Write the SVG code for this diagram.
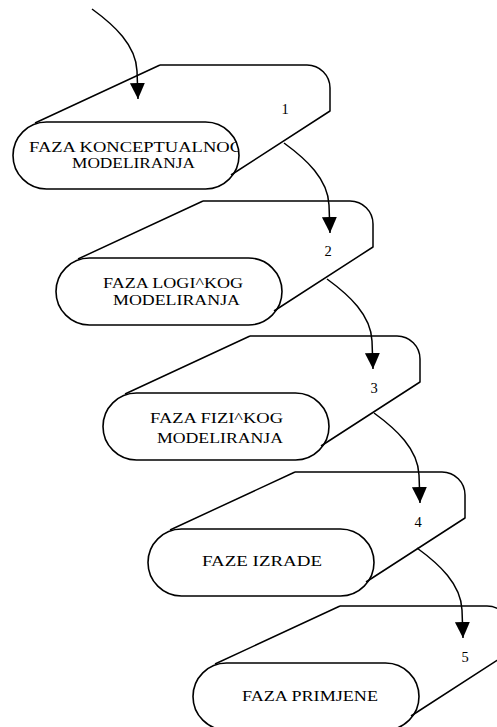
<svg xmlns="http://www.w3.org/2000/svg" width="497" height="727" viewBox="0 0 497 727">
  <style>
    .outline { fill: none; stroke: #000; stroke-width: 1.5; stroke-linejoin: round; }
    .pill { fill: none; stroke: #000; stroke-width: 1.6; }
    .label { font-family: "Liberation Serif", "Times New Roman", serif; font-size: 15px; fill: #000; text-anchor: middle; }
    .num { font-family: "Liberation Serif", "Times New Roman", serif; font-size: 14.5px; fill: #000; text-anchor: middle; }
    .flow { fill: none; stroke: #000; stroke-width: 1.5; }
  </style>
  <defs>
    <!-- tape-like outline behind each phase, drawn from the top-left corner of its top edge -->
    <path id="tape" d="M0,0 H147 A23,23 0 0 1 170,23 V46 L71,110 M0,0 L-125,58"/>
    <clipPath id="pill1clip">
      <rect x="-147" y="57" width="226" height="67" rx="33.5"/>
    </clipPath>
    <marker id="arrowhead" markerUnits="userSpaceOnUse" markerWidth="17" markerHeight="16" refX="16" refY="7.5" orient="auto">
      <path d="M0,0 L16,7.5 L0,15 z" fill="#000"/>
    </marker>
  </defs>

  <g id="phase1" transform="translate(160,65)">
    <use href="#tape" class="outline"/>
    <g clip-path="url(#pill1clip)">
      <text class="label" x="-24" y="87" textLength="214" lengthAdjust="spacingAndGlyphs">FAZA KONCEPTUALNOG</text>
    </g>
    <text class="label" x="-26.5" y="103" textLength="123" lengthAdjust="spacingAndGlyphs">MODELIRANJA</text>
    <rect class="pill" x="-147" y="57" width="226" height="67" rx="33.5"/>
    <text class="num" x="125" y="49">1</text>
  </g>

  <g id="phase2" transform="translate(203,201)">
    <use href="#tape" class="outline"/>
    <rect class="pill" x="-147" y="57" width="226" height="67" rx="33.5"/>
    <text class="label" x="-30" y="87" textLength="140" lengthAdjust="spacingAndGlyphs">FAZA LOGI^KOG</text>
    <text class="label" x="-26.5" y="104" textLength="127" lengthAdjust="spacingAndGlyphs">MODELIRANJA</text>
    <text class="num" x="125" y="55">2</text>
  </g>

  <g id="phase3" transform="translate(250,336)">
    <use href="#tape" class="outline"/>
    <rect class="pill" x="-147" y="57" width="226" height="67" rx="33.5"/>
    <text class="label" x="-33.5" y="87" textLength="133" lengthAdjust="spacingAndGlyphs">FAZA FIZI^KOG</text>
    <text class="label" x="-30" y="107" textLength="126" lengthAdjust="spacingAndGlyphs">MODELIRANJA</text>
    <text class="num" x="124" y="57">3</text>
  </g>

  <g id="phase4" transform="translate(295,472)">
    <use href="#tape" class="outline"/>
    <rect class="pill" x="-147" y="57" width="226" height="67" rx="33.5"/>
    <text class="label" x="-33" y="94" textLength="120" lengthAdjust="spacingAndGlyphs">FAZE IZRADE</text>
    <text class="num" x="123" y="55">4</text>
  </g>

  <g id="phase5" transform="translate(340,606)">
    <use href="#tape" class="outline"/>
    <rect class="pill" x="-147" y="57" width="226" height="67" rx="33.5"/>
    <text class="label" x="-30" y="95" textLength="136" lengthAdjust="spacingAndGlyphs">FAZA PRIMJENE</text>
    <text class="num" x="125" y="56">5</text>
  </g>

  <g id="connectors">
    <path class="flow" d="M92,9 c22,16 44,36 45,62 l1,28" marker-end="url(#arrowhead)"/>
    <path class="flow" d="M284,143 c22,16 44,36 45,62 l1,28" marker-end="url(#arrowhead)"/>
    <path class="flow" d="M327,279 c22,16 44,36 45,62 l1,28" marker-end="url(#arrowhead)"/>
    <path class="flow" d="M374,413 c22,16 44,36 45,62 l1,28" marker-end="url(#arrowhead)"/>
    <path class="flow" d="M417,548 c22,16 44,36 45,62 l1,28" marker-end="url(#arrowhead)"/>
  </g>
</svg>
